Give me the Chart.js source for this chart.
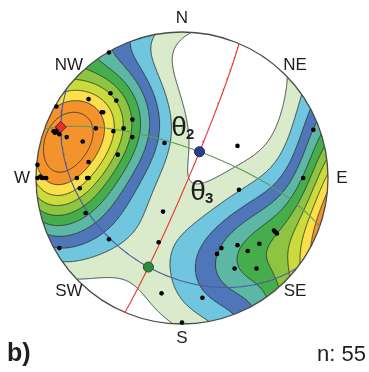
<!DOCTYPE html>
<html>
<head>
<meta charset="utf-8">
<script src="https://cdn.jsdelivr.net/npm/chart.js@4.4.1/dist/chart.umd.min.js"></script>
<style>
body { margin: 0; background: #fff; }
#wrap { width: 369px; height: 372px; }
</style>
</head>
<body>
<div id="wrap"><canvas id="stereo"></canvas></div>
<script>
// poles (equal-area, lower hemisphere, unit radius, x = E, y = N)
var poleX = [-0.50, -0.64, -0.49, -0.45, -0.86, -0.54, -0.34, -0.59, -0.47, -0.40,
             -0.34, -0.88, -0.86, -0.84, -0.79, -0.68, -0.44, -0.64, -0.99, -0.99,
             -0.96, -0.93, -0.72, -0.64, -0.70, -0.66, -0.50, -0.84, -0.12, 0.38,
              0.39, -0.13, -0.16, -0.14, 0.00, 0.14, 0.90, 0.83, 0.64, 0.65,
              0.53, 0.38, 0.27, 0.24, 0.45, 0.51, 0.36, -0.83, -0.85, -0.97,
              0.63, -0.87, -0.95, -0.65, -0.55];
var poleY = [0.86, 0.54, 0.58, 0.53, 0.49, 0.45, 0.40, 0.34, 0.32, 0.34,
             0.28, 0.32, 0.32, 0.30, 0.28, 0.25, 0.16, 0.11, 0.09, 0.00,
             0.00, 0.00, 0.00, 0.00, -0.07, -0.24, -0.42, -0.48, 0.24, 0.22,
             -0.08, -0.23, -0.44, -0.79, -0.99, -0.82, 0.33, 0.00, -0.37, -0.38,
             -0.45, -0.46, -0.48, -0.52, -0.50, -0.62, -0.62, 0.35, 0.34, 0.01,
             -0.36, 0.31, 0.00, 0.00, 0.45];

// principal axes: theta1 (max), theta2, theta3
var axisX = [-0.83, 0.12, -0.23];
var axisY = [0.35, 0.18, -0.61];

var dirLabels = ['N', 'NE', 'E', 'SE', 'S', 'SW', 'W', 'NW'];
var sampleSize = 55;

// contour styling
var kappa = 7;
var nLevels = 10;
var lowLevel = 0.12, highLevel = 0.9; // first and last contour, fraction of range
var fillColors = ['#ffffff', '#d9ebcb', '#6fc6de', '#4f76b8', '#5db7a5', '#46ad4d',
                  '#8dc441', '#cbdb3b', '#fbe04b', '#f4932c', '#f4932c'];

var SQ2 = Math.SQRT2;

function toVec(px, py) {
    var r = Math.sqrt(px * px + py * py);
    if (r < 1e-9) return [0, 0, -1];
    var th = 2 * Math.asin(Math.min(1, r / SQ2));
    var s = Math.sin(th) / r;
    return [px * s, py * s, -Math.cos(th)];
}

function toProj(v) {
    var x = v[0], y = v[1], z = v[2];
    if (z > 1e-9) { x = -x; y = -y; z = -z; }
    var h = Math.sqrt(x * x + y * y);
    if (h < 1e-9) return {x: 0, y: 0};
    var th = Math.acos(Math.max(-1, Math.min(1, -z)));
    var r = SQ2 * Math.sin(th / 2);
    return {x: r * x / h, y: r * y / h};
}

function cross(a, b) {
    return [a[1] * b[2] - a[2] * b[1], a[2] * b[0] - a[0] * b[2], a[0] * b[1] - a[1] * b[0]];
}
function unit(a) {
    var l = Math.sqrt(a[0] * a[0] + a[1] * a[1] + a[2] * a[2]);
    return [a[0] / l, a[1] / l, a[2] / l];
}

// great circle through two of the axes
function greatCircle(i, j) {
    var a = toVec(axisX[i], axisY[i]), b = toVec(axisX[j], axisY[j]);
    var n = unit(cross(a, b));
    var h = unit(cross(n, [0, 0, 1]));
    var d = cross(n, h);
    if (d[2] > 0) d = [-d[0], -d[1], -d[2]];
    var pts = [];
    for (var k = 0; k <= 120; k++) {
        var t = Math.PI * k / 120, c = Math.cos(t), s = Math.sin(t);
        pts.push(toProj([h[0] * c + d[0] * s, h[1] * c + d[1] * s, h[2] * c + d[2] * s]));
    }
    return pts;
}

var poleVecs = poleX.map(function (x, i) { return toVec(x, poleY[i]); });

function density(v) {
    var s = 0;
    for (var i = 0; i < poleVecs.length; i++) {
        var p = poleVecs[i];
        var c = Math.abs(v[0] * p[0] + v[1] * p[1] + v[2] * p[2]);
        s += Math.exp(kappa * (c - 1));
    }
    return s;
}

function hexRgb(h) {
    return [parseInt(h.substr(1, 2), 16), parseInt(h.substr(3, 2), 16), parseInt(h.substr(5, 2), 16)];
}

// density grid, filled classes and contour segments (built once)
function buildContours(chart) {
    var xs = chart.scales.x, ys = chart.scales.y, ca = chart.chartArea;
    var W = Math.ceil(ca.right - ca.left) + 2, H = Math.ceil(ca.bottom - ca.top) + 2;
    var grid = new Float32Array(W * H), max = 0, min = Infinity;
    for (var j = 0; j < H; j++) {
        for (var i = 0; i < W; i++) {
            var vx = xs.getValueForPixel(ca.left + i + 0.5);
            var vy = ys.getValueForPixel(ca.top + j + 0.5);
            var d = density(toVec(vx, vy));
            grid[j * W + i] = d;
            if (vx * vx + vy * vy <= 1) {
                if (d > max) max = d;
                if (d < min) min = d;
            }
        }
    }
    var range = max - min;
    var levels = [];
    for (var lv = 0; lv < nLevels; lv++) {
        levels.push(min + range * (lowLevel + (highLevel - lowLevel) * lv / (nLevels - 1)));
    }
    var off = document.createElement('canvas');
    off.width = W; off.height = H;
    var octx = off.getContext('2d');
    var img = octx.createImageData(W, H);
    var rgb = fillColors.map(hexRgb);
    for (var k = 0; k < W * H; k++) {
        var c = 0;
        while (c < nLevels && grid[k] >= levels[c]) c++;
        img.data[k * 4] = rgb[c][0];
        img.data[k * 4 + 1] = rgb[c][1];
        img.data[k * 4 + 2] = rgb[c][2];
        img.data[k * 4 + 3] = 255;
    }
    octx.putImageData(img, 0, 0);

    // marching squares
    var segs = [];
    var table = {1: [[3, 2]], 2: [[2, 1]], 3: [[3, 1]], 4: [[0, 1]], 5: [[3, 0], [2, 1]],
                 6: [[0, 2]], 7: [[3, 0]], 8: [[3, 0]], 9: [[0, 2]], 10: [[3, 2], [0, 1]],
                 11: [[0, 1]], 12: [[3, 1]], 13: [[2, 1]], 14: [[3, 2]]};
    levels.forEach(function (t) {
        for (var y = 0; y < H - 1; y++) {
            for (var x = 0; x < W - 1; x++) {
                var a = grid[y * W + x], b = grid[y * W + x + 1];
                var cc = grid[(y + 1) * W + x + 1], dd = grid[(y + 1) * W + x];
                var idx = (a >= t ? 8 : 0) | (b >= t ? 4 : 0) | (cc >= t ? 2 : 0) | (dd >= t ? 1 : 0);
                if (idx === 0 || idx === 15) continue;
                var ep = function (e) {
                    if (e === 0) return [x + (t - a) / (b - a), y];
                    if (e === 1) return [x + 1, y + (t - b) / (cc - b)];
                    if (e === 2) return [x + (t - dd) / (cc - dd), y + 1];
                    return [x, y + (t - a) / (dd - a)];
                };
                table[idx].forEach(function (s) {
                    var p = ep(s[0]), q = ep(s[1]);
                    segs.push(p[0], p[1], q[0], q[1]);
                });
            }
        }
    });
    return {img: off, segs: segs};
}

var contourPlugin = {
    id: 'contours',
    beforeDatasetsDraw: function (chart) {
        var ctx = chart.ctx, ca = chart.chartArea;
        var xs = chart.scales.x, ys = chart.scales.y;
        var cx = xs.getPixelForValue(0), cy = ys.getPixelForValue(0);
        var R = xs.getPixelForValue(1) - cx;
        if (!chart.$cont) chart.$cont = buildContours(chart);
        var cont = chart.$cont;
        ctx.save();
        ctx.beginPath();
        ctx.arc(cx, cy, R, 0, Math.PI * 2);
        ctx.clip();
        ctx.drawImage(cont.img, ca.left, ca.top);
        ctx.beginPath();
        var s = cont.segs;
        for (var i = 0; i < s.length; i += 4) {
            ctx.moveTo(ca.left + s[i] + 0.5, ca.top + s[i + 1] + 0.5);
            ctx.lineTo(ca.left + s[i + 2] + 0.5, ca.top + s[i + 3] + 0.5);
        }
        ctx.strokeStyle = '#2f3530';
        ctx.lineWidth = 0.9;
        ctx.stroke();
        ctx.restore();
        ctx.save();
        ctx.beginPath();
        ctx.arc(cx, cy, R, 0, Math.PI * 2);
        ctx.strokeStyle = '#4a4a4a';
        ctx.lineWidth = 1.3;
        ctx.stroke();
        ctx.restore();
    },
    afterDraw: function (chart) {
        var ctx = chart.ctx;
        var xs = chart.scales.x, ys = chart.scales.y;
        ctx.save();
        ctx.fillStyle = '#1e1e1e';
        ctx.textAlign = 'center';
        ctx.textBaseline = 'middle';
        ctx.font = '17px "Liberation Sans", Arial, sans-serif';
        dirLabels.forEach(function (lab, i) {
            var a = i * Math.PI / 4;
            ctx.fillText(lab, xs.getPixelForValue(1.095 * Math.sin(a)), ys.getPixelForValue(1.095 * Math.cos(a)));
        });
        // theta labels
        var thetaPos = [[-0.02, 0.34, '2'], [0.11, -0.10, '3']];
        thetaPos.forEach(function (p) {
            var px = xs.getPixelForValue(p[0]), py = ys.getPixelForValue(p[1]);
            ctx.font = '28px "Liberation Sans", Arial, sans-serif';
            ctx.fillText('\u03b8', px, py);
            ctx.font = 'bold 15px "Liberation Sans", Arial, sans-serif';
            ctx.fillText(p[2], px + 11, py + 6);
        });
        ctx.textBaseline = 'alphabetic';
        ctx.textAlign = 'left';
        ctx.font = 'bold 25px "Liberation Sans", Arial, sans-serif';
        ctx.fillText('b)', 7, 361);
        ctx.textAlign = 'right';
        ctx.font = '22px "Liberation Sans", Arial, sans-serif';
        ctx.fillText('n: ' + sampleSize, 366, 361);
        ctx.restore();
    }
};

var poleData = poleX.map(function (x, i) { return {x: x, y: poleY[i]}; });
var axisData = axisX.map(function (x, i) { return {x: x, y: axisY[i]}; });

new Chart(document.getElementById('stereo'), {
    type: 'scatter',
    data: {
        datasets: [
            {label: 'theta1', data: [axisData[0]], pointStyle: 'rectRot', pointRadius: 5.5,
             backgroundColor: '#e8302e', borderColor: '#5a1a1a', borderWidth: 1, clip: false},
            {label: 'theta2', data: [axisData[1]], pointRadius: 5, backgroundColor: '#2c3d8e',
             borderColor: '#1b2455', borderWidth: 1, clip: false},
            {label: 'theta3', data: [axisData[2]], pointRadius: 5, backgroundColor: '#2f8a3b',
             borderColor: '#1d5425', borderWidth: 1, clip: false},
            {label: 'poles', data: poleData, pointRadius: 2.3, backgroundColor: '#000',
             borderWidth: 0, clip: false},
            {label: 'plane 1-2', data: greatCircle(0, 1), showLine: true, pointRadius: 0,
             borderColor: '#5f9a5c', borderWidth: 1.1, clip: false},
            {label: 'plane 1-3', data: greatCircle(0, 2), showLine: true, pointRadius: 0,
             borderColor: '#4c5d9c', borderWidth: 1.1, clip: false},
            {label: 'plane 2-3', data: greatCircle(1, 2), showLine: true, pointRadius: 0,
             borderColor: '#e8342e', borderWidth: 1.1, clip: false}
        ]
    },
    options: {
        responsive: true,
        maintainAspectRatio: false,
        animation: false,
        layout: {padding: {left: 36, right: 41, top: 32, bottom: 48}},
        scales: {
            x: {type: 'linear', min: -1, max: 1, display: false},
            y: {type: 'linear', min: -1, max: 1, display: false}
        },
        plugins: {legend: {display: false}, tooltip: {enabled: false}}
    },
    plugins: [contourPlugin]
});
</script>
</body>
</html>
